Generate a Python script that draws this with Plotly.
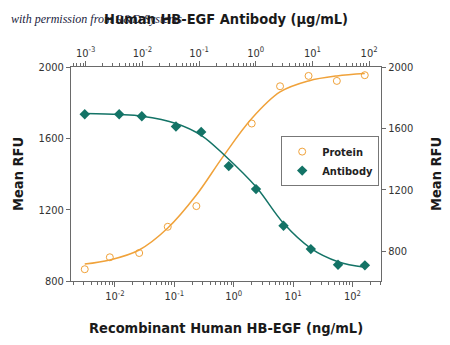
import plotly.graph_objects as go

# Protein (bottom / left axes)
protein_conc = [0.0031, 0.0082, 0.0256, 0.0775, 0.235, 2.01, 6.03, 18.2, 54.5, 161]
protein_rfu = [866, 933, 957, 1104, 1220, 1683, 1892, 1950, 1922, 1954]
protein_fit_conc = [0.0031, 0.0082, 0.0256, 0.0775, 0.235, 0.656, 2.01, 6.03, 18.2, 54.5, 161]
protein_fit_rfu = [895, 918, 974, 1097, 1282, 1496, 1711, 1860, 1922, 1950, 1963]

# Antibody (top / right axes)
antibody_conc = [0.00096, 0.00389, 0.00976, 0.0391, 0.109, 0.334, 1.01, 3.09, 9.37, 28.3, 84.3]
antibody_rfu = [1692, 1692, 1679, 1612, 1577, 1354, 1204, 965, 813, 711, 707]
antibody_fit_conc = [0.00097, 0.0039, 0.0098, 0.0391, 0.109, 0.281, 1.01, 3.09, 9.37, 28.3, 84.3]
antibody_fit_rfu = [1697, 1690, 1679, 1632, 1555, 1425, 1219, 981, 818, 731, 694]

bottom_ticks = [0.01, 0.1, 1, 10, 100]
bottom_labels = ["10<sup>-2</sup>", "10<sup>-1</sup>", "10<sup>0</sup>", "10<sup>1</sup>", "10<sup>2</sup>"]
top_ticks = [0.001, 0.01, 0.1, 1, 10, 100]
top_labels = ["10<sup>-3</sup>", "10<sup>-2</sup>", "10<sup>-1</sup>", "10<sup>0</sup>", "10<sup>1</sup>", "10<sup>2</sup>"]
y_ticks = [800, 1200, 1600, 2000]

ORANGE = "#F0A23A"
TEAL = "#137366"
AXC = "#6a6a6a"
FONT = "Liberation Sans Narrow, DejaVu Sans Condensed, Roboto, sans-serif"

minor_vals = [m * 10 ** e for e in range(-4, 3) for m in range(2, 10)]

fig = go.Figure()
fig.add_trace(go.Scatter(x=protein_fit_conc, y=protein_fit_rfu, mode="lines",
                         line=dict(color=ORANGE, width=1.5, shape="spline"),
                         showlegend=False, xaxis="x", yaxis="y", hoverinfo="skip"))
fig.add_trace(go.Scatter(x=antibody_fit_conc, y=antibody_fit_rfu, mode="lines",
                         line=dict(color=TEAL, width=1.5, shape="spline"),
                         showlegend=False, xaxis="x2", yaxis="y2", hoverinfo="skip"))
fig.add_trace(go.Scatter(x=protein_conc, y=protein_rfu, mode="markers", name="<b>Protein</b>",
                         marker=dict(symbol="circle-open", size=7, color=ORANGE, line=dict(width=1)),
                         xaxis="x", yaxis="y"))
fig.add_trace(go.Scatter(x=antibody_conc, y=antibody_rfu, mode="markers", name="<b>Antibody</b>",
                         marker=dict(symbol="diamond", size=8, color=TEAL),
                         xaxis="x2", yaxis="y2"))

tickfont = dict(family=FONT, size=11, color="#333333")
common = dict(showgrid=False, zeroline=False, showline=True, linecolor=AXC, linewidth=1,
              ticks="outside", tickcolor=AXC, tickfont=tickfont)

fig.update_layout(
    width=450, height=345,
    margin=dict(l=71, r=69, t=67, b=64),
    paper_bgcolor="white", plot_bgcolor="white",
    font=dict(family=FONT),
    xaxis=dict(type="log", range=[-2.74, 2.48], tickmode="array", tickvals=bottom_ticks,
               ticktext=bottom_labels, ticklen=5,
               minor=dict(ticks="outside", ticklen=3, tickcolor=AXC, tickmode="array", tickvals=minor_vals),
               **common),
    xaxis2=dict(type="log", range=[-3.26, 2.21], overlaying="x", side="top", anchor="y",
                tickmode="array", tickvals=top_ticks, ticktext=top_labels, ticklen=5,
                minor=dict(ticks="outside", ticklen=3, tickcolor=AXC, tickmode="array", tickvals=minor_vals),
                **common),
    yaxis=dict(range=[800, 2000], tickmode="array", tickvals=y_ticks, ticklen=4, **common),
    yaxis2=dict(range=[605, 2000], overlaying="y", side="right", anchor="x",
                tickmode="array", tickvals=y_ticks, ticklen=4, **common),
    legend=dict(x=0.678, y=0.677, xanchor="left", yanchor="top",
                bordercolor="#777777", borderwidth=1, bgcolor="white",
                font=dict(family=FONT, size=11, color="#222222"),
                itemwidth=30, tracegroupgap=0),
    showlegend=True,
)

title_font = dict(family=FONT, size=14.5, color="#1a1a1a")
fig.add_annotation(text="<i>with permission from R&amp;D Systems</i>", xref="paper", yref="paper",
                   x=-0.2, y=1.0, xanchor="left", yanchor="middle", yshift=48, showarrow=False,
                   font=dict(family="Liberation Serif, DejaVu Serif, serif", size=12, color="#1b2340"))
fig.add_annotation(text="<b>Human HB-EGF Antibody (μg/mL)</b>", xref="paper", yref="paper",
                   x=0.5, y=1.0, yshift=48, xanchor="center", yanchor="middle", showarrow=False,
                   font=title_font)
fig.add_annotation(text="<b>Recombinant Human HB-EGF (ng/mL)</b>", xref="paper", yref="paper",
                   x=0.5, y=0.0, yshift=-47, xanchor="center", yanchor="middle", showarrow=False,
                   font=title_font)
fig.add_annotation(text="<b>Mean RFU</b>", xref="paper", yref="paper",
                   x=0.0, xshift=-53, y=0.5, xanchor="center", yanchor="middle", textangle=-90,
                   showarrow=False, font=title_font)
fig.add_annotation(text="<b>Mean RFU</b>", xref="paper", yref="paper",
                   x=1.0, xshift=55, y=0.5, xanchor="center", yanchor="middle", textangle=-90,
                   showarrow=False, font=title_font)

fig.write_html("out.html")
